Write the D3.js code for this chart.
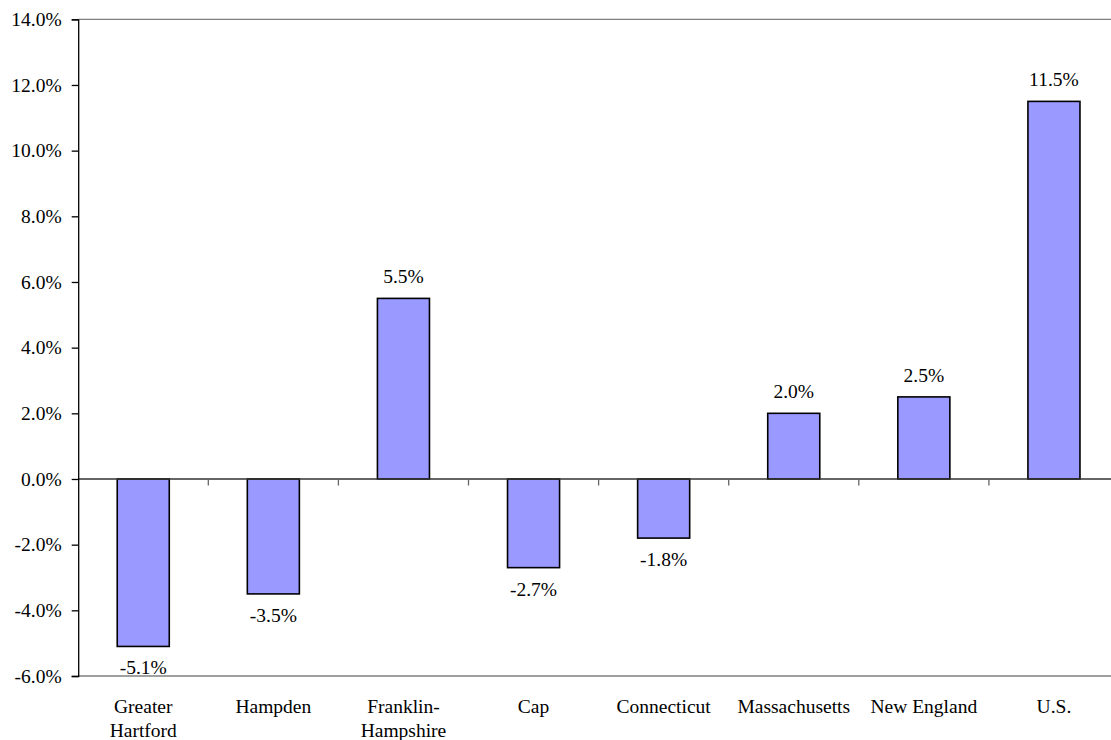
<!DOCTYPE html>
<html>
<head>
<meta charset="utf-8">
<script src="https://cdn.jsdelivr.net/npm/d3@7"></script>
<style>
  html, body { margin: 0; padding: 0; background: #fff; }
  svg { display: block; }
  text { font-family: "Liberation Serif", "Times New Roman", serif; fill: #000; }
</style>
</head>
<body>
<svg id="chart" width="1111" height="740"></svg>
<script>
// Percent change by region
const categories = [["Greater", "Hartford"], ["Hampden"], ["Franklin-", "Hampshire"], ["Cap"],
                    ["Connecticut"], ["Massachusetts"], ["New England"], ["U.S."]];
const values = [-5.1, -3.5, 5.5, -2.7, -1.8, 2.0, 2.5, 11.5];
const yTicks = [-6, -4, -2, 0, 2, 4, 6, 8, 10, 12, 14];

const svg = d3.select("#chart");
const margin = { left: 78.2, top: 19.3, right: 1119, bottom: 676 };
const fontSize = 19.5;

const x = d3.scaleBand()
  .domain(d3.range(categories.length))
  .range([margin.left, margin.right])
  .paddingInner(0.6).paddingOuter(0.3);

const y = d3.scaleLinear().domain([-6, 14]).range([margin.bottom, margin.top]);

// plot frame: top and bottom edges
svg.append("line")
  .attr("x1", margin.left).attr("x2", 1111)
  .attr("y1", y(14)).attr("y2", y(14))
  .attr("stroke", "#808080").attr("stroke-width", 1.3);
svg.append("line")
  .attr("x1", margin.left).attr("x2", 1111)
  .attr("y1", y(-6)).attr("y2", y(-6))
  .attr("stroke", "#808080").attr("stroke-width", 1.3);

// bars
svg.selectAll("rect.bar")
  .data(values)
  .join("rect")
  .attr("class", "bar")
  .attr("x", (d, i) => x(i))
  .attr("width", x.bandwidth())
  .attr("y", d => y(Math.max(0, d)))
  .attr("height", d => Math.abs(y(d) - y(0)))
  .attr("fill", "#9999FF")
  .attr("stroke", "#000")
  .attr("stroke-width", 1.6);

// zero baseline with ticks between categories
svg.append("line")
  .attr("x1", margin.left).attr("x2", 1111)
  .attr("y1", y(0)).attr("y2", y(0))
  .attr("stroke", "#333").attr("stroke-width", 1.3);
const step = (margin.right - margin.left) / categories.length;
svg.selectAll("line.xtick")
  .data(d3.range(1, categories.length))
  .join("line")
  .attr("class", "xtick")
  .attr("x1", i => margin.left + i * step).attr("x2", i => margin.left + i * step)
  .attr("y1", y(0)).attr("y2", y(0) + 6.5)
  .attr("stroke", "#666").attr("stroke-width", 1.3);

// y axis
const yAxis = d3.axisLeft(y)
  .tickValues(yTicks)
  .tickFormat(d => d.toFixed(1) + "%")
  .tickSize(6.5)
  .tickPadding(10);
const gy = svg.append("g")
  .attr("transform", `translate(${margin.left},0)`)
  .call(yAxis);
gy.select(".domain").attr("stroke", "#000").attr("stroke-width", 1.3);
gy.selectAll(".tick line").attr("stroke", "#000").attr("stroke-width", 1.3);
gy.selectAll(".tick text")
  .attr("font-family", "Liberation Serif, Times New Roman, serif")
  .attr("font-size", fontSize)
  .attr("fill", "#000");

// value labels
svg.selectAll("text.val")
  .data(values)
  .join("text")
  .attr("class", "val")
  .attr("x", (d, i) => x(i) + x.bandwidth() / 2)
  .attr("y", d => d >= 0 ? y(d) - 15 : y(d) + 28)
  .attr("text-anchor", "middle")
  .attr("font-size", fontSize)
  .text(d => d.toFixed(1) + "%");

// category labels
const cat = svg.selectAll("text.cat")
  .data(categories)
  .join("text")
  .attr("class", "cat")
  .attr("text-anchor", "middle")
  .attr("font-size", fontSize);
cat.selectAll("tspan")
  .data((d, i) => d.map(t => ({ t, i })))
  .join("tspan")
  .attr("x", d => x(d.i) + x.bandwidth() / 2)
  .attr("y", (d, k) => 713 + k * 24)
  .text(d => d.t);
</script>
</body>
</html>
